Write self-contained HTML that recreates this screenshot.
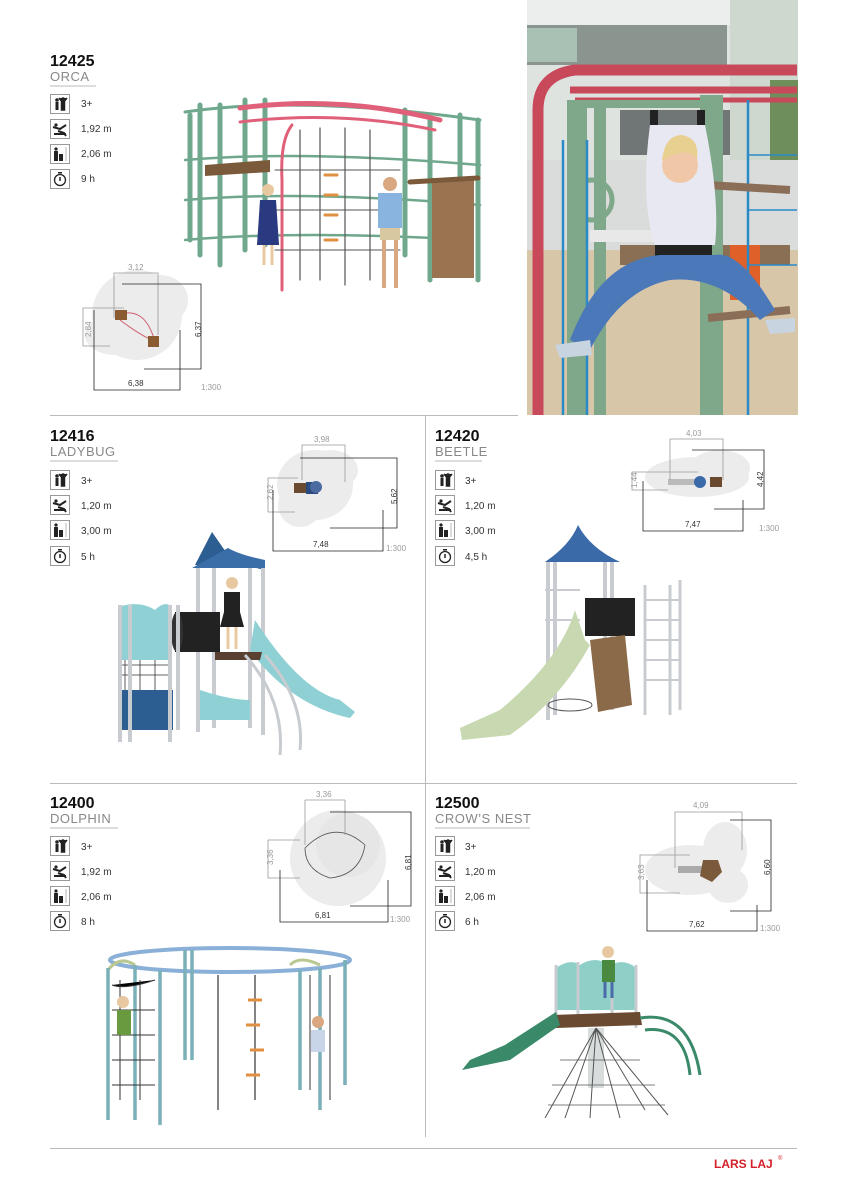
<!DOCTYPE html>
<html><head><meta charset="utf-8"><style>
html,body{margin:0;padding:0;background:#fff}
svg{display:block}
text{font-family:"Liberation Sans",sans-serif}
.t{font-size:16px;font-weight:bold;fill:#111}
.n{font-size:13px;fill:#888;letter-spacing:0.5px}
.i{font-size:10px;fill:#333}
.d{font-size:8px;fill:#999}
.db{font-size:8px;fill:#333}
</style></head><body>
<svg width="849" height="1200" viewBox="0 0 849 1200" xmlns="http://www.w3.org/2000/svg">
<defs>
<g id="ico">
<rect x="0.5" y="0.5" width="19" height="19" fill="#fff" stroke="#999"/>
</g>
<g id="kids"><use href="#ico"/><circle cx="7" cy="6" r="1.8" fill="#222"/><rect x="5.5" y="8" width="3" height="8" fill="#222"/><circle cx="13" cy="5" r="1.8" fill="#222"/><path d="M9 4 L13 9 L17 4 M11.5 8 h3 v8 h-3z" stroke="#222" stroke-width="1.5" fill="#222"/></g>
<g id="fall"><use href="#ico"/><path d="M3 8 L10 10 L16 6 M8 12 L14 14 L16 17 M4 15 h12" stroke="#222" stroke-width="2" fill="none"/><circle cx="6" cy="6" r="1.6" fill="#222"/></g>
<g id="hgt"><use href="#ico"/><circle cx="6" cy="5" r="1.6" fill="#222"/><rect x="4" y="7" width="4" height="10" fill="#222"/><rect x="9" y="10" width="4" height="7" fill="#222"/><path d="M16 3 v14" stroke="#999" stroke-width="0.7"/></g>
<g id="tim"><use href="#ico"/><circle cx="10" cy="11" r="5.5" fill="none" stroke="#222" stroke-width="1.3"/><rect x="8" y="3" width="4" height="1.5" fill="#222"/><path d="M10 8 v4" stroke="#222" stroke-width="1.5"/></g>
</defs>

<!-- photo -->
<rect x="527" y="0" width="271" height="415" fill="#dfe3e0"/>
<rect x="527" y="0" width="271" height="25" fill="#eceeed"/>
<rect x="527" y="25" width="200" height="40" fill="#8a9590"/>
<rect x="527" y="28" width="50" height="34" fill="#a9c0b4"/>
<rect x="620" y="110" width="110" height="45" fill="#6f7675"/>
<rect x="730" y="0" width="68" height="200" fill="#cfd8cf"/>
<rect x="770" y="80" width="28" height="170" fill="#6e8f5c"/>
<rect x="527" y="160" width="271" height="90" fill="#d9dcda"/>
<rect x="527" y="250" width="271" height="165" fill="#d8c6a8"/>
<rect x="620" y="245" width="170" height="20" fill="#8a6f55"/>
<rect x="730" y="245" width="30" height="55" fill="#e0602a"/>
<path d="M538 415 V110 Q538 75 575 70 H797" stroke="#c84a5a" stroke-width="11" fill="none"/>
<path d="M570 90 H797" stroke="#c84a5a" stroke-width="7"/>
<path d="M575 100 H797" stroke="#c84a5a" stroke-width="5"/>
<rect x="567" y="100" width="20" height="315" fill="#7fa88a"/>
<rect x="594" y="100" width="12" height="315" fill="#7fa88a"/>
<rect x="700" y="95" width="23" height="320" fill="#7fa88a"/>
<rect x="585" y="100" width="130" height="8" fill="#7fa88a"/>
<rect x="590" y="230" width="120" height="12" fill="#e8e8e8"/>
<circle cx="592" cy="200" r="20" fill="none" stroke="#7fa88a" stroke-width="5"/>
<path d="M563 140 V415 M587 140 V415 M748 100 V415" stroke="#2a8ac8" stroke-width="2.5"/>
<path d="M748 155 H797 M748 210 H797 M748 265 H797" stroke="#2a8ac8" stroke-width="1.5"/>
<path d="M708 318 L790 310" stroke="#8b6e58" stroke-width="8"/>
<path d="M708 185 L790 190" stroke="#8b6e58" stroke-width="8"/>
<rect x="650" y="110" width="8" height="20" fill="#222"/><rect x="697" y="110" width="8" height="20" fill="#222"/>
<path d="M650 125 Q640 200 655 245 H715 Q720 200 705 125 Z" fill="#e8e8f2"/>
<path d="M655 245 H712 V258 H655Z" fill="#222"/>
<circle cx="680" cy="165" r="18" fill="#f0c8a8"/>
<path d="M662 160 Q665 135 682 135 Q700 138 697 160 Q690 145 662 160Z" fill="#e8d090"/>
<path d="M660 255 Q600 260 570 340 L590 350 Q620 290 670 280 Q720 275 760 320 L775 310 Q740 250 715 255Z" fill="#4a78b8"/>
<path d="M555 345 L590 340 L592 355 L560 358Z" fill="#c8d4e0"/>
<path d="M765 320 L795 318 L795 332 L770 334Z" fill="#c8d4e0"/>

<!-- dividers -->
<path d="M50 415.5 H518" stroke="#bbb" stroke-width="1"/>
<path d="M425.5 416 V1137" stroke="#bbb" stroke-width="1"/>
<path d="M50 783.5 H797" stroke="#bbb" stroke-width="1"/>
<path d="M50 1148.5 H797" stroke="#bbb" stroke-width="1"/>
<text x="714" y="1168" style="font-size:12px;font-weight:bold;fill:#d3202a">LARS LAJ</text>
<text x="778" y="1160" style="font-size:6px;fill:#d3202a">®</text>

<!-- SECTION A -->
<text x="50" y="66" class="t">12425</text>
<text x="50" y="81" class="n">ORCA</text>
<path d="M50 86 H96" stroke="#bbb"/>
<use href="#kids" x="50" y="94"/><text x="81" y="107" class="i">3+</text>
<use href="#fall" x="50" y="119"/><text x="81" y="132" class="i">1,92 m</text>
<use href="#hgt" x="50" y="144"/><text x="81" y="157" class="i">2,06 m</text>
<use href="#tim" x="50" y="169"/><text x="81" y="182" class="i">9 h</text>
<!-- orca drawing -->
<g stroke-linecap="round">
<path d="M185 112 Q300 95 480 120" stroke="#6fa88c" stroke-width="3" fill="none"/>
<path d="M185 160 Q300 150 480 165 M185 200 Q300 190 480 205 M185 240 Q300 230 470 240" stroke="#6fa88c" stroke-width="2.5" fill="none"/>
<path d="M190 115 V240 M200 105 V255 M220 105 V265 M245 100 V250 M265 100 V245 M405 110 V255 M430 120 V280 M460 115 V270 M478 120 V280" stroke="#6fa88c" stroke-width="5"/>
<path d="M240 108 Q340 95 440 120" stroke="#e0607a" stroke-width="5" fill="none"/>
<path d="M240 122 Q340 110 435 130" stroke="#e0607a" stroke-width="3" fill="none"/>
<path d="M292 125 Q280 140 282 180 V290" stroke="#e0607a" stroke-width="3" fill="none"/>
<path d="M300 130 V280 M320 128 V280 M345 128 V285 M370 130 V280" stroke="#555" stroke-width="1.2"/>
<path d="M275 170 H400 M275 210 H400 M275 250 H400" stroke="#555" stroke-width="1"/>
<path d="M325 175 h12 M325 195 h12 M325 215 h12 M325 240 h12" stroke="#e09040" stroke-width="3"/>
<path d="M205 165 L270 160 L270 172 L205 176Z" fill="#7a5a3a"/>
<rect x="432" y="178" width="42" height="100" fill="#9a7450"/>
<path d="M410 182 L478 178" stroke="#7a5a3a" stroke-width="5"/>
</g>
<!-- kids in render -->
<circle cx="268" cy="190" r="6" fill="#e8c8a0"/>
<path d="M260 200 h16 l3 45 h-22z" fill="#2a3a80"/>
<path d="M264 245 v20 M272 245 v20" stroke="#e8c8a0" stroke-width="3"/>
<circle cx="390" cy="184" r="7" fill="#d9a880"/>
<path d="M378 193 h24 v35 h-24z" fill="#8ab4e0"/>
<path d="M380 228 h20 v12 h-20z" fill="#d8c8a0"/>
<path d="M384 240 v48 M396 240 v48" stroke="#d9a880" stroke-width="4"/>
<!-- plan A -->
<ellipse cx="137" cy="315" rx="45" ry="45" fill="#ececec"/>
<ellipse cx="160" cy="300" rx="28" ry="25" fill="#ececec"/>
<ellipse cx="115" cy="335" rx="30" ry="20" fill="#ececec"/>
<path d="M118 315 Q145 305 155 342" stroke="#d06070" fill="none"/>
<path d="M120 320 Q140 335 152 340" stroke="#d06070" fill="none"/>
<rect x="115" y="310" width="12" height="10" fill="#8a5a30"/>
<rect x="148" y="336" width="11" height="11" fill="#8a5a30"/>
<path d="M114 318 V273 H158 V335" stroke="#999" stroke-width="0.8" fill="none"/>
<text x="128" y="270" class="d">3,12</text>
<path d="M124 308 H83 V346 H110" stroke="#999" stroke-width="0.8" fill="none"/>
<text x="83" y="333" class="d" transform="rotate(-90 83 333) translate(-4 8)">2,84</text>
<path d="M122 284 H201 V369 H144" stroke="#222" stroke-width="0.8" fill="none"/>
<text x="202" y="337" class="db" transform="rotate(-90 202 337) translate(0 -1)">6,37</text>
<path d="M94 310 V390 H180 V330" stroke="#222" stroke-width="0.8" fill="none"/>
<text x="128" y="386" class="db">6,38</text>
<text x="201" y="390" class="d">1:300</text>

<!-- SECTION B 12416 -->
<text x="50" y="441" class="t">12416</text>
<text x="50" y="456" class="n">LADYBUG</text>
<path d="M50 461 H118" stroke="#bbb"/>
<use href="#kids" x="50" y="470"/><text x="81" y="484" class="i">3+</text>
<use href="#fall" x="50" y="495"/><text x="81" y="509" class="i">1,20 m</text>
<use href="#hgt" x="50" y="520"/><text x="81" y="534" class="i">3,00 m</text>
<use href="#tim" x="50" y="546"/><text x="81" y="560" class="i">5 h</text>
<!-- plan B -->
<ellipse cx="315" cy="485" rx="38" ry="35" fill="#ececec"/>
<ellipse cx="330" cy="470" rx="28" ry="20" fill="#ececec"/>
<ellipse cx="300" cy="505" rx="22" ry="22" fill="#ececec"/>
<rect x="294" y="483" width="14" height="10" fill="#6a4a30"/>
<rect x="306" y="482" width="12" height="12" fill="#2a4a80"/>
<circle cx="316" cy="487" r="6" fill="#4a6aa0"/>
<path d="M302 480 V445 H345 V482" stroke="#999" stroke-width="0.8" fill="none"/>
<text x="314" y="442" class="d">3,98</text>
<path d="M298 478 H268 V512 H295" stroke="#999" stroke-width="0.8" fill="none"/>
<text x="265" y="500" class="d" transform="rotate(-90 265 500) translate(0 8)">2,62</text>
<path d="M300 458 H397 V528 H330" stroke="#222" stroke-width="0.8" fill="none"/>
<text x="398" y="504" class="db" transform="rotate(-90 398 504) translate(0 -1)">5,62</text>
<path d="M273 490 V551 H383 V510" stroke="#222" stroke-width="0.8" fill="none"/>
<text x="313" y="547" class="db">7,48</text>
<text x="386" y="551" class="d">1:300</text>
<!-- ladybug drawing -->
<path d="M195 565 L212 532 L228 555 Q240 565 265 570 L262 565 H195Z" fill="#2d5e92"/>
<path d="M192 568 H265 V560 Q240 555 228 548Z" fill="#3a6ea8"/>
<path d="M198 568 V732 M214 568 V728 M250 568 V728 M263 568 V735" stroke="#c8ccd0" stroke-width="4"/>
<rect x="175" y="612" width="45" height="40" fill="#222"/>
<ellipse cx="177" cy="632" rx="6" ry="20" fill="#333"/>
<path d="M118 607 Q140 600 155 610 Q165 600 172 607 V660 H118Z" fill="#8ed0d4"/>
<rect x="118" y="690" width="55" height="40" fill="#2d5e92"/>
<path d="M120 665 H170 M120 675 H170 M125 660 V690 M140 660 V690 M155 660 V690" stroke="#333" stroke-width="0.8"/>
<path d="M120 605 V742 M130 605 V742 M170 605 V742 M178 605 V730" stroke="#c8ccd0" stroke-width="4"/>
<path d="M255 620 Q300 690 340 700 L355 712 L350 718 Q290 705 250 650Z" fill="#8ed0d4"/>
<path d="M200 690 Q230 700 250 700 V720 H200Z" fill="#8ed0d4"/>
<path d="M215 652 H262 L260 660 H215Z" fill="#5a4030"/>
<path d="M245 655 Q285 700 280 755 M265 655 Q305 700 300 750" stroke="#c8ccd0" stroke-width="3" fill="none"/>
<circle cx="232" cy="583" r="6" fill="#e8c8a0"/>
<path d="M224 592 h16 v20 l4 15 h-24 l4 -15z" fill="#222"/>
<path d="M228 627 v22 M236 627 v22" stroke="#e8c8a0" stroke-width="3"/>

<!-- SECTION C 12420 -->
<text x="435" y="441" class="t">12420</text>
<text x="435" y="456" class="n">BEETLE</text>
<path d="M435 461 H482" stroke="#bbb"/>
<use href="#kids" x="435" y="470"/><text x="465" y="484" class="i">3+</text>
<use href="#fall" x="435" y="495"/><text x="465" y="509" class="i">1,20 m</text>
<use href="#hgt" x="435" y="520"/><text x="465" y="534" class="i">3,00 m</text>
<use href="#tim" x="435" y="546"/><text x="465" y="560" class="i">4,5 h</text>
<!-- plan C -->
<ellipse cx="697" cy="477" rx="52" ry="20" fill="#ececec"/>
<ellipse cx="720" cy="468" rx="30" ry="18" fill="#ececec"/>
<rect x="668" y="479" width="30" height="6" fill="#bbb"/>
<circle cx="700" cy="482" r="6" fill="#3a6aa8"/>
<rect x="710" y="477" width="12" height="10" fill="#6a4a30"/>
<path d="M670 480 V439 H723 V480" stroke="#999" stroke-width="0.8" fill="none"/>
<text x="686" y="436" class="d">4,03</text>
<path d="M698 472 H632 V490 H668" stroke="#999" stroke-width="0.8" fill="none"/>
<text x="629" y="488" class="d" transform="rotate(-90 629 488) translate(0 8)">1,44</text>
<path d="M692 450 H764 V509 H714" stroke="#222" stroke-width="0.8" fill="none"/>
<text x="764" y="487" class="db" transform="rotate(-90 764 487) translate(0 -1)">4,42</text>
<path d="M643 481 V531 H743 V500" stroke="#222" stroke-width="0.8" fill="none"/>
<text x="685" y="527" class="db">7,47</text>
<text x="759" y="531" class="d">1:300</text>
<!-- beetle drawing -->
<path d="M545 562 Q570 545 578 525 Q590 548 620 562Z" fill="#3a6aa8"/>
<path d="M548 562 V720 M555 562 V715 M605 562 V700 M612 562 V710" stroke="#c8ccd0" stroke-width="4"/>
<path d="M545 590 H580 M545 620 H580" stroke="#c8ccd0" stroke-width="2"/>
<rect x="585" y="598" width="50" height="38" fill="#222"/>
<path d="M585 640 L575 610 Q560 660 500 710 L460 728 L462 740 L510 735 Q560 700 590 645Z" fill="#c8d8b0"/>
<path d="M590 640 L625 635 L632 705 L598 712Z" fill="#8a6a48"/>
<path d="M645 585 V715 M670 585 V715 M680 580 V710" stroke="#c8ccd0" stroke-width="3"/>
<path d="M645 600 H680 M645 620 H680 M645 640 H680 M645 660 H680 M645 680 H680" stroke="#c8ccd0" stroke-width="2"/>
<ellipse cx="570" cy="705" rx="22" ry="6" fill="none" stroke="#555"/>

<!-- SECTION D 12400 -->
<text x="50" y="808" class="t">12400</text>
<text x="50" y="823" class="n">DOLPHIN</text>
<path d="M50 828 H118" stroke="#bbb"/>
<use href="#kids" x="50" y="836"/><text x="81" y="850" class="i">3+</text>
<use href="#fall" x="50" y="861"/><text x="81" y="875" class="i">1,92 m</text>
<use href="#hgt" x="50" y="886"/><text x="81" y="900" class="i">2,06 m</text>
<use href="#tim" x="50" y="911"/><text x="81" y="925" class="i">8 h</text>
<!-- plan D -->
<circle cx="338" cy="858" r="48" fill="#ececec"/>
<circle cx="348" cy="845" r="32" fill="#e6e6e6"/>
<path d="M305 848 Q335 818 365 845 Q360 875 330 878 Q305 870 305 848" stroke="#555" fill="none" stroke-width="0.8"/>
<path d="M305 800 V845 M345 800 V835" stroke="#999" stroke-width="0.8" fill="none"/>
<path d="M305 800 H345" stroke="#999" stroke-width="0.8"/>
<text x="316" y="797" class="d">3,36</text>
<path d="M300 840 H268 V878 H300" stroke="#999" stroke-width="0.8" fill="none"/>
<text x="265" y="865" class="d" transform="rotate(-90 265 865) translate(0 8)">3,36</text>
<path d="M330 812 H411 V906 H350" stroke="#222" stroke-width="0.8" fill="none"/>
<text x="412" y="870" class="db" transform="rotate(-90 412 870) translate(0 -1)">6,81</text>
<path d="M280 870 V922 H388 V880" stroke="#222" stroke-width="0.8" fill="none"/>
<text x="315" y="918" class="db">6,81</text>
<text x="390" y="922" class="d">1:300</text>
<!-- dolphin drawing -->
<ellipse cx="230" cy="960" rx="120" ry="12" fill="none" stroke="#8ab0d8" stroke-width="4"/>
<path d="M108 970 Q120 955 135 965 M290 965 Q300 955 320 965" stroke="#b8c890" stroke-width="3" fill="none"/>
<path d="M108 968 V1120 M135 965 V1120 M160 970 V1125 M185 950 V1060 M192 950 V1060 M300 970 V1090 M320 968 V1110 M345 960 V1085" stroke="#7ab0b8" stroke-width="3.5"/>
<path d="M112 985 Q125 990 155 980 M112 1010 H155 M112 1035 H155 M112 1060 H155 M112 1085 H155" stroke="#333" stroke-width="1"/>
<path d="M120 980 V1100 M140 980 V1100 M310 975 V1090 M330 975 V1100" stroke="#333" stroke-width="1"/>
<path d="M218 975 V1110 M255 975 V1100" stroke="#333" stroke-width="1.2"/>
<path d="M248 1000 h14 M246 1025 h14 M250 1050 h14 M246 1075 h14" stroke="#e09040" stroke-width="3"/>
<circle cx="123" cy="1002" r="6" fill="#e8c8a0"/>
<rect x="117" y="1010" width="14" height="25" fill="#6a9a40"/>
<circle cx="318" cy="1022" r="6" fill="#d9a880"/>
<rect x="311" y="1030" width="14" height="22" fill="#c8d4e8"/>

<!-- SECTION E 12500 -->
<text x="435" y="808" class="t">12500</text>
<text x="435" y="823" class="n">CROW’S NEST</text>
<path d="M435 828 H530" stroke="#bbb"/>
<use href="#kids" x="435" y="836"/><text x="465" y="850" class="i">3+</text>
<use href="#fall" x="435" y="861"/><text x="465" y="875" class="i">1,20 m</text>
<use href="#hgt" x="435" y="886"/><text x="465" y="900" class="i">2,06 m</text>
<use href="#tim" x="435" y="911"/><text x="465" y="925" class="i">6 h</text>
<!-- plan E -->
<ellipse cx="690" cy="870" rx="45" ry="25" fill="#ececec"/>
<ellipse cx="725" cy="850" rx="22" ry="28" fill="#ececec"/>
<ellipse cx="728" cy="885" rx="20" ry="18" fill="#ececec"/>
<rect x="678" y="866" width="25" height="7" fill="#aaa"/>
<path d="M703 860 L718 860 L722 872 L712 882 L700 876Z" fill="#7a5a3a"/>
<path d="M675 868 V812 H742 V850" stroke="#999" stroke-width="0.8" fill="none"/>
<text x="693" y="808" class="d">4,09</text>
<path d="M690 855 H640 V893 H680" stroke="#999" stroke-width="0.8" fill="none"/>
<text x="636" y="880" class="d" transform="rotate(-90 636 880) translate(0 8)">3,63</text>
<path d="M730 820 H771 V911 H730" stroke="#222" stroke-width="0.8" fill="none"/>
<text x="771" y="875" class="db" transform="rotate(-90 771 875) translate(0 -1)">6,60</text>
<path d="M647 880 V931 H757 V905" stroke="#222" stroke-width="0.8" fill="none"/>
<text x="689" y="927" class="db">7,62</text>
<text x="760" y="931" class="d">1:300</text>
<!-- crow's nest drawing -->
<path d="M556 968 Q570 958 580 965 Q595 955 610 965 Q625 958 636 968 V1010 H556Z" fill="#8ed0c8"/>
<path d="M556 965 V1025 M578 962 V1025 M612 962 V1025 M636 965 V1028" stroke="#c8ccd0" stroke-width="3"/>
<path d="M552 1015 L640 1012 L642 1025 L556 1028Z" fill="#6a4a30"/>
<rect x="588" y="1028" width="16" height="60" fill="#d8dcdc"/>
<path d="M596 1028 L545 1118 M596 1028 L565 1118 M596 1028 L590 1118 M596 1028 L620 1118 M596 1028 L645 1110 M596 1028 L668 1115" stroke="#555" stroke-width="1"/>
<path d="M560 1060 H640 M552 1085 H655 M548 1105 H665" stroke="#555" stroke-width="0.8"/>
<path d="M556 1012 L505 1045 L470 1060 L462 1070 L510 1060 L560 1025Z" fill="#3a8a6a"/>
<path d="M640 1018 Q690 1010 700 1075 M645 1030 Q685 1025 690 1075" stroke="#3a8a6a" stroke-width="3" fill="none"/>
<circle cx="608" cy="952" r="6" fill="#e8c8a0"/>
<rect x="602" y="960" width="13" height="22" fill="#4a8a40"/>
<path d="M605 982 v16 M612 982 v16" stroke="#4a6aa8" stroke-width="3"/>
</svg>
</body></html>
